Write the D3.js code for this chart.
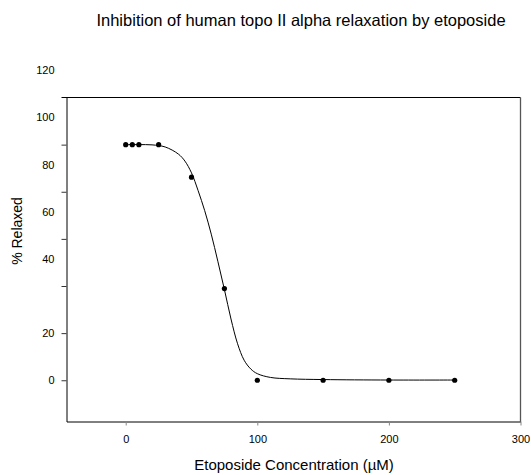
<!DOCTYPE html>
<html>
<head>
<meta charset="utf-8">
<script src="https://cdn.jsdelivr.net/npm/d3@7/dist/d3.min.js"></script>
<style>
  body { margin: 0; background: #fff; }
  svg { display: block; font-family: Arial, "Liberation Sans", sans-serif; }
</style>
</head>
<body>
<svg id="chart" width="531" height="475"></svg>
<script>
// ---- data ----
const concentrations = [0, 5, 10, 25, 50, 75, 100, 150, 200, 250];
const relaxed = [100, 100, 100, 100, 86.2, 38.9, 0, 0, 0, 0];
// fitted curve
const fitX = [0, 10, 20, 30, 40, 45, 50, 55, 60, 65, 70, 75, 80, 85, 90, 95, 100, 110, 125, 150, 200, 250];
const fitY = [100, 100, 99.9, 99, 96, 93, 88, 80.5, 72, 62, 50.5, 38.5, 26, 15.5, 8.5, 4.8, 2.8, 1.2, 0.6, 0.3, 0.1, 0.1];
const xTicks = [0, 100, 200, 300];
const yTicks = [0, 20, 40, 60, 80, 100];
const yTickLabels = [0, 20, 40, 60, 80, 100, 120];
const title = "Inhibition of human topo II alpha relaxation by etoposide";
const xTitle = "Etoposide Concentration (\u00b5M)";
const yTitle = "% Relaxed";

(function () {
// ---- layout ----
const svg = d3.select("#chart");
const pl = 66.5, pr = 520.5, pt = 97.5, pb = 421.5;
const x = d3.scaleLinear().domain([-45, 300]).range([pl, pr]);
const y = d3.scaleLinear().domain([-17.5, 120]).range([pb, pt]);

// title
svg.append("text")
  .attr("x", 301).attr("y", 26)
  .attr("text-anchor", "middle")
  .style("font-size", "16.5px")
  .text(title);

// frame (top and right)
svg.append("line").attr("x1", pl - 5).attr("x2", pr).attr("y1", pt).attr("y2", pt)
  .attr("stroke", "#000").attr("stroke-width", 1);
svg.append("line").attr("x1", pr).attr("x2", pr).attr("y1", pt).attr("y2", pb)
  .attr("stroke", "#555").attr("stroke-width", 1.3);

// x axis
const xAxis = svg.append("g")
  .attr("transform", `translate(0,${pb})`)
  .call(d3.axisBottom(x).tickValues(xTicks).tickSize(4).tickSizeOuter(0).tickPadding(10));
xAxis.select(".domain").attr("stroke", "#000");
xAxis.selectAll(".tick line").attr("stroke", "#888");
xAxis.selectAll(".tick text").style("font-size", "11px").attr("fill", "#000")
  .style("font-family", "Arial, 'Liberation Sans', sans-serif");

// y axis (ticks only, labels drawn separately)
const yAxis = svg.append("g")
  .attr("transform", `translate(${pl},0)`)
  .call(d3.axisLeft(y).tickValues(yTicks).tickSize(5).tickSizeOuter(0).tickFormat(""));
yAxis.select(".domain").attr("stroke", "#000");
yAxis.selectAll(".tick line").attr("stroke", "#333");

// y tick labels (upper labels sit offset from their ticks, as in the original)
const labelShift = 11.5;
svg.append("g").selectAll("text")
  .data(yTickLabels)
  .join("text")
  .attr("x", pl - 12)
  .attr("y", d => y(d >= 40 ? d + labelShift : d))
  .attr("dy", "0.35em")
  .attr("text-anchor", "end")
  .style("font-size", "11px")
  .text(d => d);

// axis titles
svg.append("text")
  .attr("x", 294).attr("y", 470)
  .attr("text-anchor", "middle")
  .style("font-size", "15px")
  .text(xTitle);
svg.append("text")
  .attr("transform", `translate(22,231) rotate(-90)`)
  .attr("text-anchor", "middle")
  .style("font-size", "14px")
  .text(yTitle);

// fitted curve
const line = d3.line().x((d, i) => x(fitX[i])).y(d => y(d)).curve(d3.curveCatmullRom.alpha(0.5));
svg.append("path")
  .datum(fitY)
  .attr("d", line)
  .attr("fill", "none")
  .attr("stroke", "#000")
  .attr("stroke-width", 1);

// points
svg.append("g").selectAll("circle")
  .data(concentrations)
  .join("circle")
  .attr("cx", d => x(d))
  .attr("cy", (d, i) => y(relaxed[i]))
  .attr("r", 2.6)
  .attr("fill", "#000");
})();
</script>
</body>
</html>
